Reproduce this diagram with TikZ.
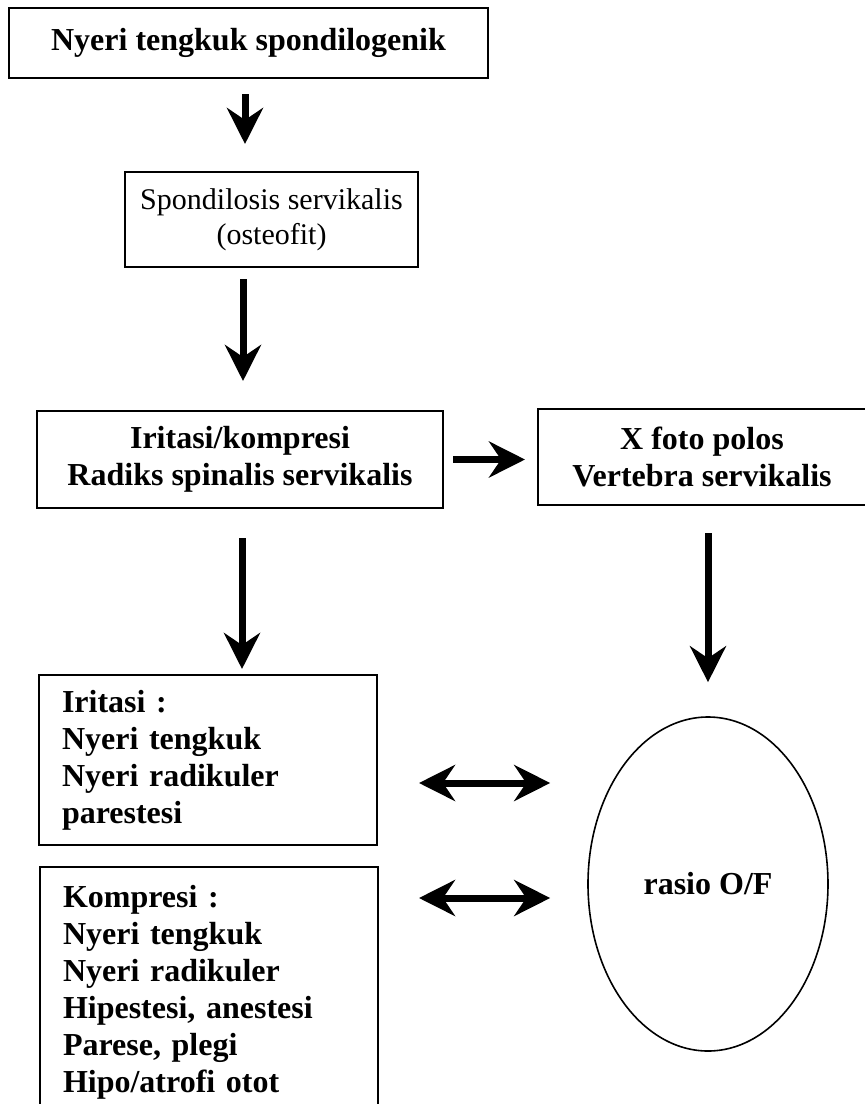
\documentclass[tikz,border=0pt]{standalone}
\usepackage{fontspec}
\setmainfont{Liberation Serif}
\usetikzlibrary{arrows.meta,shapes.geometric,calc}

\begin{document}
\begin{tikzpicture}[
    x=0.5pt, y=-0.5pt,
    box/.style={draw, line width=1pt, align=center, inner sep=0pt, font=\fontsize{16pt}{18.5pt}\selectfont\bfseries},
    plain/.style={draw, line width=1pt, align=center, inner sep=0pt, font=\fontsize{15pt}{17.5pt}\selectfont},
    list/.style={draw, line width=1pt, align=left, inner xsep=11.5pt, inner ysep=0pt, text width=146pt, minimum width=169pt, font=\fontsize{16pt}{18.5pt}\selectfont\bfseries},
    oval/.style={draw, ellipse, line width=0.8pt, inner sep=0pt, minimum width=120pt, minimum height=167pt, font=\fontsize{16pt}{18.5pt}\selectfont\bfseries},
    arr/.style={-{Stealth[length=18pt, width=18pt, inset=6pt]}, line width=3.5pt},
    darr/.style={{Stealth[length=18pt, width=18pt, inset=6pt]}-{Stealth[length=18pt, width=18pt, inset=6pt]}, line width=3.5pt}
]
\useasboundingbox[fill=white] (0,0) rectangle (864,1104);

\node[box, minimum width=239.5pt, minimum height=35pt] (top) at (248.5,43) {Nyeri tengkuk spondilogenik};
\node[plain, minimum width=146.5pt, minimum height=47.5pt] (spond) at (271.5,219.5) {Spondilosis servikalis\\(osteofit)};
\node[box, minimum width=203pt, minimum height=48.5pt] (radiks) at (240,459.5) {Iritasi/kompresi\\Radiks spinalis servikalis};
\node[box, minimum width=164pt, minimum height=48pt] (xfoto) at (702,457) {X foto polos\\Vertebra servikalis};
\node[list, minimum height=85pt] (iritasi) at (208,760) {Iritasi :\\Nyeri tengkuk\\Nyeri radikuler\\parestesi};
\node[list, minimum height=125pt] (kompresi) at (209,992) {Kompresi :\\Nyeri tengkuk\\Nyeri radikuler\\Hipestesi, anestesi\\Parese, plegi\\Hipo/atrofi otot};
\node[oval] (ratio) at (708,884) {rasio O/F};

\draw[arr, shorten <=7.5pt, shorten >=13.5pt] ([xshift=-1.75pt]top.south) -- ([xshift=-1.75pt]top.south |- spond.north);
\draw[arr, shorten <=5.5pt, shorten >=14.5pt] ([xshift=1.5pt]radiks.north |- spond.south) -- ([xshift=1.5pt]radiks.north);
\draw[arr, shorten <=4.5pt, shorten >=6pt] (radiks.east) -- (radiks.east -| xfoto.west);
\draw[arr, shorten <=14.5pt, shorten >=2.5pt] ([xshift=1pt]radiks.south) -- ([xshift=1pt]radiks.south |- iritasi.north);
\draw[arr, shorten <=13.5pt, shorten >=17pt] (xfoto.south -| ratio.north) -- (ratio.north);
\draw[darr, shorten <=20.5pt, shorten >=18.5pt] ([yshift=-11.5pt]iritasi.east) -- ([yshift=-11.5pt]iritasi.east -| ratio.west);
\draw[darr, shorten <=20pt, shorten >=18.5pt] ([yshift=-7pt]kompresi.east |- ratio.west) -- ([yshift=-7pt]ratio.west);
\end{tikzpicture}
\end{document}
